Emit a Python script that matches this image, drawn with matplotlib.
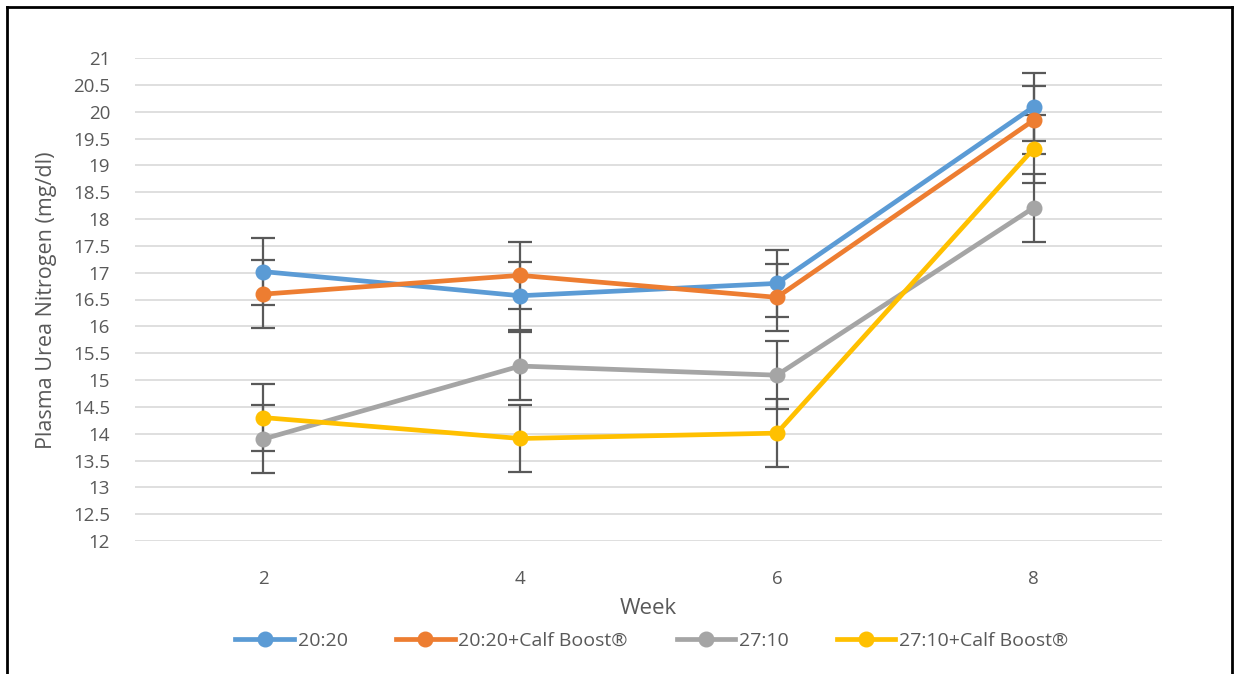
import matplotlib
matplotlib.use("Agg")
import matplotlib.pyplot as plt
from matplotlib.lines import Line2D
import numpy as np

weeks = ["2", "4", "6", "8"]
series_names = ["20:20", "20:20+Calf Boost®", "27:10", "27:10+Calf Boost®"]
v_2020 = [17.02, 16.57, 16.80, 20.09]
v_2020cb = [16.60, 16.95, 16.54, 19.84]
v_2710 = [13.90, 15.26, 15.09, 18.21]
v_2710cb = [14.30, 13.91, 14.01, 19.31]
se = [0.63, 0.63, 0.63, 0.63]
colors = ["#5B9BD5", "#ED7D31", "#A5A5A5", "#FFC000"]

W, H = 1237, 674
fig = plt.figure(figsize=(W / 100, H / 100), dpi=100)
ax = fig.add_axes([135 / W, 1 - 541 / H, (1162 - 135) / W, (541 - 58) / H])

x = np.arange(len(weeks))
all_vals = [v_2020, v_2020cb, v_2710, v_2710cb]
for vals in all_vals:
    ax.errorbar(x, vals, yerr=se, fmt="none", ecolor="#595959", elinewidth=1.6,
                capsize=8.5, capthick=1.6, zorder=2)
for vals, c, name in zip(all_vals, colors, series_names):
    ax.plot(x, vals, color=c, lw=3.4, marker="o", ms=10.5, label=name, zorder=3)

ax.set_xlim(-0.5, 3.5)
ax.set_ylim(12, 21)
yt = np.arange(12, 21.01, 0.5)
ax.set_yticks(yt)
ax.set_yticklabels([("%g" % v) for v in yt])
ax.set_xticks(x)
ax.set_xticklabels(weeks)
ax.grid(axis="y", color="#D9D9D9", lw=1.2)
ax.set_axisbelow(True)
for s in ax.spines.values():
    s.set_visible(False)
ax.tick_params(length=0, labelcolor="#595959", labelsize=13.5)
ax.tick_params(axis="y", pad=18)
ax.tick_params(axis="x", pad=21)
for lab in ax.get_xticklabels() + ax.get_yticklabels():
    lab.set_family("Open Sans")

fig.text(47 / W, 1 - 300 / H, "Plasma Urea Nitrogen (mg/dl)", rotation=90,
         ha="center", va="center", color="#595959", fontsize=15.5,
         family="Open Sans")
fig.text(648 / W, 1 - 608 / H, "Week", ha="center", va="center",
         color="#595959", fontsize=16, family="Open Sans")

handles = [Line2D([0], [0], color=c, lw=3.4, marker="o", ms=10.5) for c in colors]
leg = fig.legend(handles, series_names, loc="center", bbox_to_anchor=(652 / W, 1 - 641 / H),
                 ncol=4, frameon=False, handlelength=3.0, columnspacing=2.5,
                 handletextpad=0.2, prop={"family": "Open Sans", "size": 14})
for t in leg.get_texts():
    t.set_color("#595959")

lw = 2
fig.add_artist(Line2D([7 / W, 7 / W], [0, 1 - 7 / H], color="black", lw=lw, transform=fig.transFigure))
fig.add_artist(Line2D([7 / W, 1232 / W], [1 - 7 / H, 1 - 7 / H], color="black", lw=lw, transform=fig.transFigure))
fig.add_artist(Line2D([1232 / W, 1232 / W], [0, 1 - 7 / H], color="black", lw=lw, transform=fig.transFigure))

fig.savefig("out.png", dpi=100)
